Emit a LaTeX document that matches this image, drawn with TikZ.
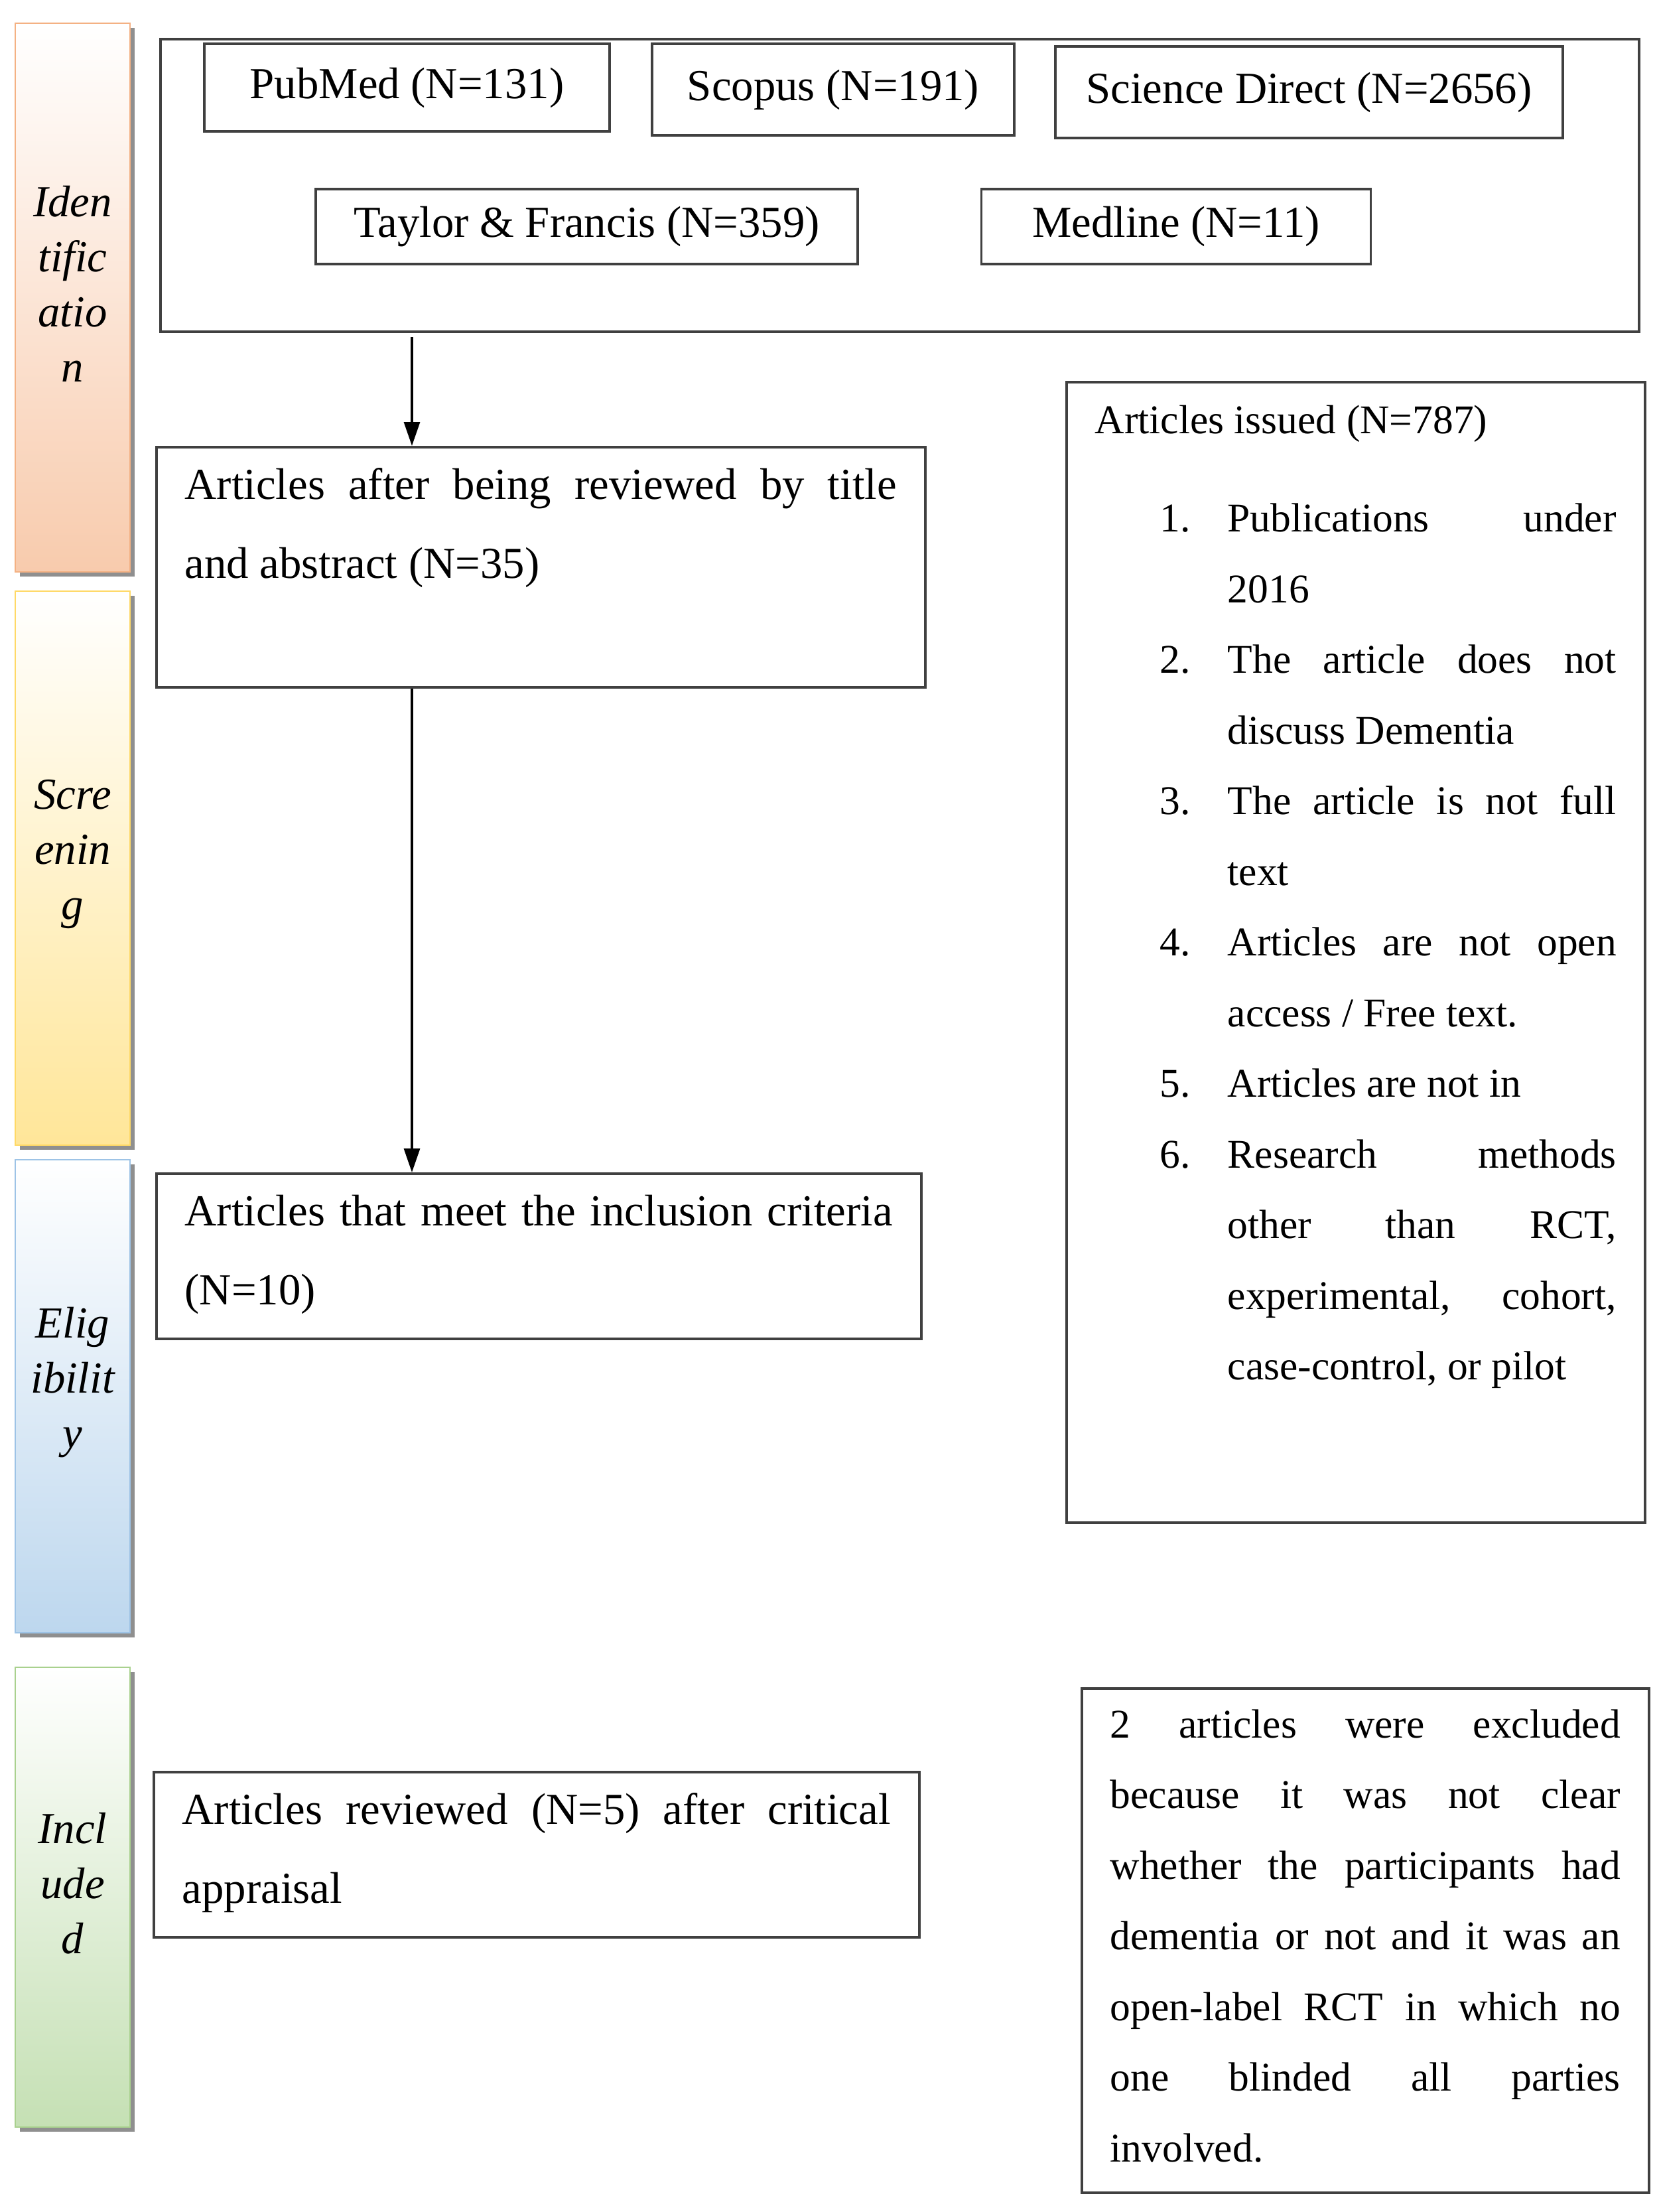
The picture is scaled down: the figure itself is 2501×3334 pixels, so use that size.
\documentclass[tikz,border=0pt]{standalone}
\usepackage{fontspec}
\setmainfont{Liberation Serif}
\usetikzlibrary{arrows.meta,positioning,shadows}

\definecolor{idfill}{HTML}{F8CBAD}
\definecolor{idedge}{HTML}{F4B183}
\definecolor{scfill}{HTML}{FFE699}
\definecolor{scedge}{HTML}{FFD966}
\definecolor{elfill}{HTML}{BDD7EE}
\definecolor{eledge}{HTML}{9DC3E6}
\definecolor{infill}{HTML}{C5E0B4}
\definecolor{inedge}{HTML}{A9D18E}

\newcommand{\bigtext}{\fontsize{19pt}{33.9pt}\selectfont\tolerance=10000\hbadness=10000\hyphenpenalty=10000\relax}
\newcommand{\smalltext}{\fontsize{17.5pt}{30.3pt}\selectfont\tolerance=10000\hbadness=10000\hyphenpenalty=10000\relax}
\newcommand{\boxtext}[3]{\parbox[c][#1][t]{#2}{\bigtext #3\par}}
\newcommand{\exitem}[2]{\par\noindent\hangindent=10.2mm\hangafter=1\makebox[10.2mm][l]{#1.}#2}

\begin{document}
\begin{tikzpicture}[x=0.1mm, y=-0.1mm,
  phase/.style={anchor=north west, minimum width=17.3mm, inner sep=0pt, top color=white, bottom color=#1fill, draw=#1edge, line width=0.6pt, drop shadow={shadow xshift=0.7mm, shadow yshift=-0.7mm, fill=black!55, opacity=0.8}},
  phaselabel/.style={font=\fontsize{19pt}{23.6pt}\selectfont\itshape, align=center, yshift=2.1mm},
  source/.style={draw=black!75, line width=1pt, font=\fontsize{19pt}{22pt}\selectfont, inner sep=0pt},
  stepbox/.style={draw=black!75, line width=1pt, anchor=north west, inner xsep=4.3mm, inner ysep=3.2mm},
  arr/.style={-{Triangle[length=3.6mm,width=2.4mm]}, line width=0.9pt}
]
\useasboundingbox (0,0) rectangle (2501,3334);

% phase bars on the left
\node[phase=id, minimum height=82.7mm] (idbar) at (22,34) {};
\node[phaselabel] (idtext) at (idbar.center) {Iden\\tific\\atio\\n};
\node[phase=sc, minimum height=83.5mm] (scbar) at (22,890) {};
\node[phaselabel] (sctext) at (scbar.center) {Scre\\enin\\g};
\node[phase=el, minimum height=71.3mm] (elbar) at (22,1747) {};
\node[phaselabel] (eltext) at (elbar.center) {Elig\\ibilit\\y};
\node[phase=in, minimum height=69.3mm] (inbar) at (22,2512) {};
\node[phaselabel] (intext) at (inbar.center) {Incl\\ude\\d};

% databases
\node[draw=black!75, line width=1.2pt, anchor=north west, minimum width=222.9mm, minimum height=44.1mm, inner sep=0pt] (search) at (240,57) {};
\node[source, minimum width=61.1mm, minimum height=13.2mm] (pubmed) at (613.5,132) {PubMed (N=131)};
\node[source, minimum width=54.6mm, minimum height=13.8mm] (scopus) at (1256,135) {Scopus (N=191)};
\node[source, minimum width=76.5mm, minimum height=13.8mm] (scidirect) at (1973.5,139) {Science Direct (N=2656)};
\node[source, minimum width=81.7mm, minimum height=11.3mm] (taylor) at (884.5,341.5) {Taylor \& Francis (N=359)};
\node[source, minimum width=58.7mm, minimum height=11.3mm, right=18.3mm of taylor] (medline) {Medline (N=11)};

% main flow
\node[stepbox] (screen) at (234,672) {\boxtext{29.8mm}{107.3mm}{Articles after being reviewed by title\linebreak and abstract (N=35)}};
\node[stepbox] (eligible) at (234,1767) {\boxtext{18.5mm}{106.7mm}{Articles that meet the inclusion criteria\linebreak (N=10)}};
\node[stepbox] (included) at (230,2669) {\boxtext{18.5mm}{106.8mm}{Articles reviewed (N=5) after critical\linebreak appraisal}};

% exclusions
\node[stepbox, inner ysep=3.5mm] (issued) at (1606,574) {\parbox[c][164.9mm][t]{78.6mm}{\smalltext Articles issued (N=787)\par\vspace{4.2mm}\leftskip=9.8mm
\exitem{1}{Publications under\linebreak 2016}
\exitem{2}{The article does not\linebreak discuss Dementia}
\exitem{3}{The article is not full\linebreak text}
\exitem{4}{Articles are not open\linebreak access / Free text.}
\exitem{5}{Articles are not in}
\exitem{6}{Research methods\linebreak other than RCT,\linebreak experimental, cohort,\linebreak case-control, or pilot}\par}};
\node[stepbox] (excluded) at (1629,2543) {\parbox[c][69.6mm][t]{76.9mm}{\smalltext 2 articles were excluded\linebreak because it was not clear\linebreak whether the participants had\linebreak dementia or not and it was an\linebreak open-label RCT in which no\linebreak one blinded all parties\linebreak involved.\par}};

\coordinate (flow) at (621,0);
\draw[arr, shorten <=0.6mm] (search.south -| flow) -- (screen.north -| flow);
\draw[arr] (screen.south -| flow) -- (eligible.north -| flow);
\end{tikzpicture}
\end{document}
